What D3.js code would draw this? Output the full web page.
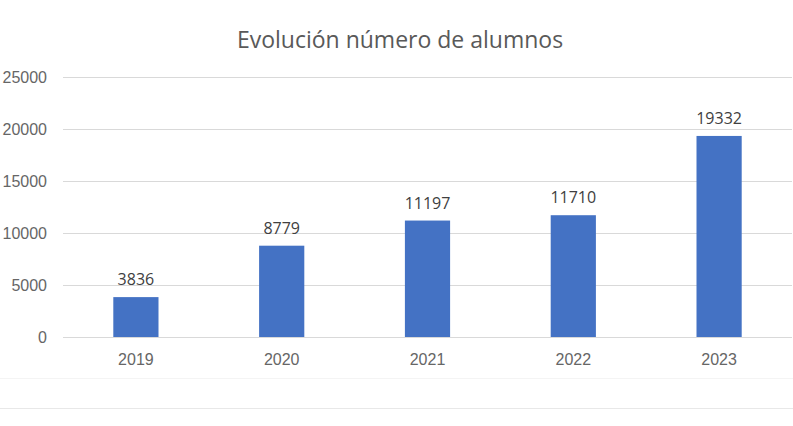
<!DOCTYPE html>
<html lang="es">
<head>
  <meta charset="UTF-8">
  <title>Evolución número de alumnos</title>
  <script src="https://d3js.org/d3.v7.min.js"></script>
  <style>
    body { margin: 0; background: #fff; }
    svg { display: block; font-family: "Open Sans", sans-serif; }
    .title { font-size: 23px; fill: #595959; text-anchor: middle; }
    .axis text { font-size: 16px; fill: #666; }
    .axis path, .axis line { display: none; }
    .grid line { stroke: #d9d9d9; stroke-width: 1; }
    .bar { fill: #4472c4; }
    .label { font-size: 16px; fill: #404040; text-anchor: middle; }
  </style>
</head>
<body>
  <svg id="chart"></svg>
  <script>
    // data
    const years = ["2019", "2020", "2021", "2022", "2023"];
    const alumnos = [3836, 8779, 11197, 11710, 19332];
    const yTicks = [0, 5000, 10000, 15000, 20000, 25000];

    const W = 793, H = 426;
    const margin = { top: 77, right: 1, bottom: 89, left: 63 };
    const width = W - margin.left - margin.right;
    const height = H - margin.top - margin.bottom;

    const root = d3.select("#chart").attr("width", W).attr("height", H);

    // faint separators below the chart
    root.append("line")
      .attr("x1", 0).attr("x2", W).attr("y1", 378.5).attr("y2", 378.5)
      .attr("stroke", "#f4f4f4");
    root.append("line")
      .attr("x1", 0).attr("x2", W).attr("y1", 408.5).attr("y2", 408.5)
      .attr("stroke", "#e8e8e8");

    root.append("text")
      .attr("class", "title")
      .attr("x", 400)
      .attr("y", 48)
      .text("Evolución número de alumnos");

    const svg = root.append("g")
      .attr("transform", "translate(" + margin.left + "," + margin.top + ")");

    const x = d3.scaleBand()
      .domain(years)
      .range([0, width])
      .paddingInner(0.69)
      .paddingOuter(0.345);

    const y = d3.scaleLinear()
      .domain([0, 25000])
      .range([height, 0]);

    // gridlines
    svg.append("g")
      .attr("class", "grid")
      .selectAll("line")
      .data(yTicks)
      .enter().append("line")
      .attr("x1", 0)
      .attr("x2", width)
      .attr("y1", d => Math.round(y(d)) + 0.5)
      .attr("y2", d => Math.round(y(d)) + 0.5);

    // y axis labels
    svg.append("g")
      .attr("class", "axis axis--y")
      .attr("transform", "translate(-16,0)")
      .call(d3.axisLeft(y).tickValues(yTicks).tickSize(0).tickPadding(0).tickFormat(d3.format("d")));

    // x axis labels
    svg.append("g")
      .attr("class", "axis axis--x")
      .attr("transform", "translate(0," + height + ")")
      .call(d3.axisBottom(x).tickSize(0).tickPadding(17));

    const data = years.map((yr, i) => ({ year: yr, value: alumnos[i] }));

    svg.selectAll(".bar")
      .data(data)
      .enter().append("rect")
      .attr("class", "bar")
      .attr("x", d => x(d.year))
      .attr("y", d => y(d.value))
      .attr("width", x.bandwidth())
      .attr("height", d => height - y(d.value));

    svg.selectAll(".label")
      .data(data)
      .enter().append("text")
      .attr("class", "label")
      .attr("x", d => x(d.year) + x.bandwidth() / 2)
      .attr("y", d => y(d.value) - 12)
      .text(d => d.value);
  </script>
</body>
</html>
